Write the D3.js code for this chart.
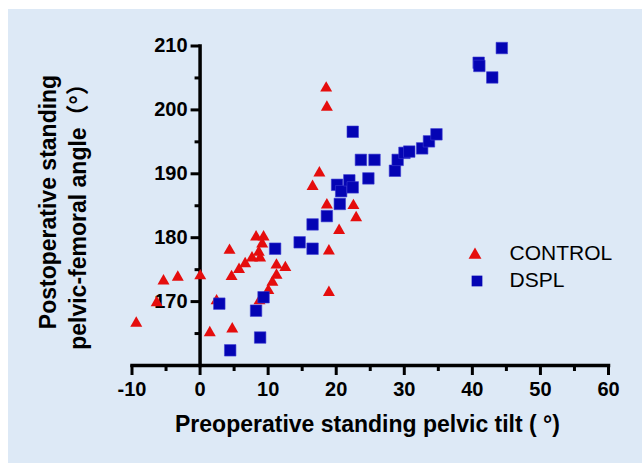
<!DOCTYPE html>
<html lang="en">
<head>
    <meta charset="UTF-8">
    <title>Pelvic tilt vs pelvic-femoral angle</title>
    <style>
        body {
            margin: 0;
            padding: 0;
            overflow: hidden;
            background: #fff;
        }

        svg text {
            font-family: Arial, "Liberation Sans", "Noto Sans CJK SC", sans-serif;
            fill: #000;
        }

        .tick-label {
            font-size: 20px;
            font-weight: bold;
        }

        .axis-title {
            font-size: 23px;
            font-weight: bold;
        }

        .legend text {
            font-size: 21px;
        }
    </style>
</head>
<body>
    <script src="https://d3js.org/d3.v7.min.js"></script>
    <script>
        // preop pelvic tilt (x) / postop pelvic-femoral angle (y)
        const control = [
            [-9.3, 166.7], [-6.3, 169.9], [-5.3, 173.3], [-3.2, 173.9], [0.1, 174.1],
            [1.5, 165.2], [2.5, 170.2], [4.4, 178.1], [4.7, 174.0], [4.8, 165.8],
            [5.8, 175.1], [6.7, 176.0], [7.7, 176.9], [8.3, 180.2], [9.4, 180.2],
            [9.2, 179.1], [8.7, 177.8], [8.9, 176.9], [8.8, 170.2], [10.1, 171.8],
            [10.7, 173.1], [11.3, 174.2], [11.3, 175.8], [12.6, 175.4], [16.6, 188.1],
            [17.6, 190.2], [18.6, 203.5], [18.7, 200.5], [18.7, 185.2], [19.0, 178.0],
            [19.0, 171.5], [20.5, 181.2], [22.6, 185.1], [23.0, 183.2]
        ];

        const dspl = [
            [2.9, 169.6], [4.5, 162.3], [8.3, 168.5], [8.9, 164.3], [9.4, 170.6],
            [11.1, 178.2], [14.7, 179.2], [16.6, 178.2], [16.6, 182.0], [18.7, 183.3],
            [20.6, 185.2], [20.2, 188.2], [20.8, 187.2], [22.0, 188.9], [22.5, 187.8],
            [22.5, 196.5], [23.7, 192.1], [25.7, 192.1], [24.8, 189.2], [28.7, 190.4],
            [29.1, 192.1], [30.1, 193.2], [30.8, 193.4], [32.7, 193.9], [33.7, 195.0],
            [34.8, 196.1], [41.0, 207.3], [41.1, 206.8], [43.0, 205.0], [44.4, 209.6]
        ];

        const xMajor = [-10, 0, 10, 20, 30, 40, 50, 60];
        const xMinor = [-5, 5, 15, 25, 35, 45, 55];
        const yMajor = [170, 180, 190, 200, 210];
        const yMinor = [165, 175, 185, 195, 205];

        const seriesNames = ["CONTROL", "DSPL"];

        const width = 642;
        const height = 463;

        const svg = d3.select("body").append("svg")
            .attr("width", width)
            .attr("height", height);

        // light blue panel
        svg.append("rect")
            .attr("x", 8)
            .attr("y", 9)
            .attr("width", width - 8)
            .attr("height", height - 9)
            .attr("fill", "#dde9f6");

        const x = d3.scaleLinear().domain([-10, 60]).range([131.5, 608]);
        const y = d3.scaleLinear().domain([160, 210]).range([365, 45.5]);

        // plain hyphen for negatives, like the original
        const fmt = d => String(d);

        // x axis (sits at y = 160)
        const xg = svg.append("g").attr("transform", `translate(0,${y(160)})`);
        xg.append("g")
            .call(d3.axisBottom(x).tickValues(xMinor).tickSize(6).tickFormat(""))
            .call(g => g.select(".domain").remove());
        xg.append("g")
            .call(d3.axisBottom(x).tickValues(xMajor).tickSize(10).tickSizeOuter(0).tickPadding(7)
                .tickFormat(fmt))
            .call(g => g.select(".domain").attr("stroke-width", 3.5).attr("stroke-linecap", "square"));

        // y axis (sits at x = 0)
        const yg = svg.append("g").attr("transform", `translate(${x(0)},0)`);
        yg.append("g")
            .call(d3.axisLeft(y).tickValues(yMinor).tickSize(5).tickFormat(""))
            .call(g => g.select(".domain").remove());
        yg.append("g")
            .call(d3.axisLeft(y).tickValues(yMajor).tickSize(9).tickSizeOuter(0).tickPadding(3)
                .tickFormat(fmt))
            .call(g => g.select(".domain").attr("stroke-width", 3.5).attr("stroke-linecap", "square"));

        svg.selectAll(".tick line").attr("stroke", "#000").attr("stroke-width", 3);
        svg.selectAll(".domain").attr("stroke", "#000");
        svg.selectAll(".tick text")
            .attr("class", "tick-label")
            .attr("font-size", null)
            .attr("font-family", null);

        // axis titles
        svg.append("text")
            .attr("class", "axis-title")
            .attr("x", 367.5)
            .attr("y", 432)
            .attr("text-anchor", "middle")
            .text("Preoperative standing pelvic tilt ( °)");

        svg.append("text")
            .attr("class", "axis-title")
            .attr("transform", "translate(55.5,202) rotate(-90)")
            .attr("text-anchor", "middle")
            .text("Postoperative standing");

        svg.append("text")
            .attr("class", "axis-title")
            .attr("transform", "translate(86,211) rotate(-90)")
            .attr("text-anchor", "middle")
            .text("pelvic-femoral angle（°）");

        // markers
        const tri = d3.symbol().type(d3.symbolTriangle).size(62);
        const sq = d3.symbol().type(d3.symbolSquare).size(132);

        svg.append("g")
            .selectAll("path")
            .data(control)
            .enter().append("path")
            .attr("d", tri)
            .attr("transform", d => `translate(${x(d[0])},${y(d[1]) + 1})`)
            .attr("fill", "#e50d0d");

        svg.append("g")
            .selectAll("path")
            .data(dspl)
            .enter().append("path")
            .attr("d", sq)
            .attr("transform", d => `translate(${x(d[0])},${y(d[1])})`)
            .attr("fill", "#0404b4")
            .attr("stroke", "#3c3cd2")
            .attr("stroke-width", 0.6);

        // legend
        const legend = svg.append("g").attr("class", "legend");
        legend.append("path")
            .attr("d", d3.symbol().type(d3.symbolTriangle).size(72))
            .attr("transform", "translate(475,255)")
            .attr("fill", "#e50d0d");
        legend.append("path")
            .attr("d", d3.symbol().type(d3.symbolSquare).size(115))
            .attr("transform", "translate(477,281)")
            .attr("fill", "#0404b4");
        legend.selectAll("text")
            .data(seriesNames)
            .enter().append("text")
            .attr("x", 509.5)
            .attr("y", (d, i) => 260 + i * 26.7)
            .text(d => d);
    </script>
</body>
</html>
